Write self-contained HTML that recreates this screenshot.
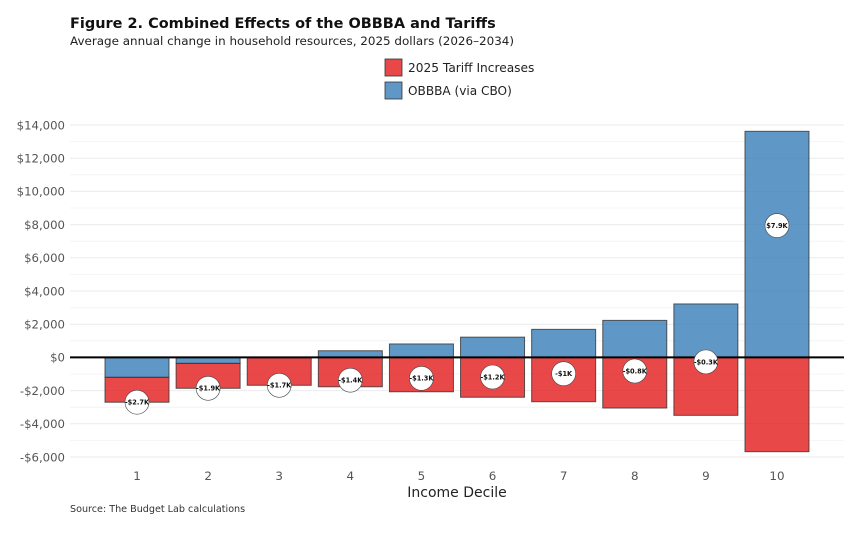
<!DOCTYPE html>
<html lang="en">
<head>
<meta charset="utf-8">
<title>Combined Effects of the OBBBA and Tariffs</title>
<style>
html,body{margin:0;padding:0;background:#fff;}
body{width:858px;height:538px;overflow:hidden;}
svg{display:block;font-family:"DejaVu Sans","Liberation Sans",sans-serif;}
</style>
</head>
<body>
<svg id="chart" width="858" height="538" viewBox="0 0 858 538" xmlns="http://www.w3.org/2000/svg">
  <rect x="0" y="0" width="858" height="538" fill="#ffffff"/>
  <text x="70" y="28" font-size="14.47" font-weight="700" fill="#111">Figure 2. Combined Effects of the OBBBA and Tariffs</text>
  <text x="70" y="45" font-size="11.93" fill="#222">Average annual change in household resources, 2025 dollars (2026–2034)</text>
  <rect x="385" y="59" width="17" height="17" fill="#E41A1C" fill-opacity="0.8" stroke="#333" stroke-width="0.8"/>
  <text x="408" y="72" font-size="12.2" fill="#222">2025 Tariff Increases</text>
  <rect x="385" y="82" width="17" height="17" fill="#377EB8" fill-opacity="0.8" stroke="#333" stroke-width="0.8"/>
  <text x="408" y="95" font-size="12.1" fill="#222">OBBBA (via CBO)</text>
  <g id="grid"></g>
  <g id="yaxis"></g>
  <g id="bars"></g>
  <line id="zero" stroke="#000" stroke-width="2"></line>
  <g id="labels"></g>
  <g id="xaxis"></g>
  <text x="457" y="497" font-size="14" text-anchor="middle" fill="#222">Income Decile</text>
  <text x="70" y="512" font-size="9.6" fill="#333">Source: The Budget Lab calculations</text>
</svg>
<script>
const deciles = [1, 2, 3, 4, 5, 6, 7, 8, 9, 10];
const obbbaValues = [-1200, -360, 0, 400, 810, 1220, 1690, 2230, 3220, 13620];
const tariffValues = [-1500, -1500, -1680, -1770, -2070, -2400, -2670, -3050, -3490, -5680];
const netLabels = ['-$2.7K', '-$1.9K', '-$1.7K', '-$1.4K', '-$1.3K', '-$1.2K', '-$1K', '-$0.8K', '-$0.3K', '$7.9K'];
const majorTicks = [-6000, -4000, -2000, 0, 2000, 4000, 6000, 8000, 10000, 12000, 14000];
const minorTicks = [-5000, -3000, -1000, 1000, 3000, 5000, 7000, 9000, 11000, 13000];

const SVG_NS = 'http://www.w3.org/2000/svg';
const plotLeft = 70, plotRight = 844, barWidth = 64;
function yScale(v) { return 357.4 - v * 0.0166; }
function xScale(d) { return 137 + (d - 1) * 71.11; }
function make(tag, attrs, parent) {
  const el = document.createElementNS(SVG_NS, tag);
  for (const k in attrs) el.setAttribute(k, attrs[k]);
  parent.appendChild(el);
  return el;
}
function money(v) {
  const s = '$' + Math.abs(v).toLocaleString('en-US');
  return v < 0 ? '-' + s : s;
}
const gridG = document.getElementById('grid');
const yG = document.getElementById('yaxis');
const xG = document.getElementById('xaxis');
const barsG = document.getElementById('bars');
const labelsG = document.getElementById('labels');

minorTicks.forEach(function (t) {
  const el = make('line', { x1: plotLeft, x2: plotRight, y1: yScale(t), y2: yScale(t), stroke: '#f4f4f4', 'stroke-width': 1 }, gridG);
  
  
});
majorTicks.forEach(function (t) {
  const el = make('line', { x1: plotLeft, x2: plotRight, y1: yScale(t), y2: yScale(t), stroke: '#ebebeb', 'stroke-width': 1 }, gridG);
  
  
  const lab = make('text', { x: 65, y: yScale(t) + 4.3, 'font-size': 11.7, 'text-anchor': 'end', fill: '#555' }, yG);
  
  
  lab.textContent = money(t);
});
function drawBar(x, a, b, fill, name) {
  const top = yScale(Math.max(a, b)), bottom = yScale(Math.min(a, b));
  const el = make('rect', { x: x - barWidth / 2, y: top, width: barWidth, height: bottom - top, fill: fill, 'fill-opacity': 0.8, stroke: '#333', 'stroke-opacity': 0.8, 'stroke-width': 1 }, barsG);
  
  
}
deciles.forEach(function (d, i) {
  const x = xScale(d);
  const ob = obbbaValues[i], ta = tariffValues[i];
  if (ob !== 0) drawBar(x, 0, ob, '#377EB8', 'bar-obbba');
  const start = Math.min(ob, 0);
  drawBar(x, start, start + ta, '#E41A1C', 'bar-tariff');
  const tick = make('text', { x: x, y: 480, 'font-size': 11.9, 'text-anchor': 'middle', fill: '#555' }, xG);
  
  
  tick.textContent = d;
});
const zero = document.getElementById('zero');
zero.setAttribute('x1', plotLeft);
zero.setAttribute('x2', plotRight);
zero.setAttribute('y1', yScale(0));
zero.setAttribute('y2', yScale(0));
deciles.forEach(function (d, i) {
  const x = xScale(d), y = yScale(obbbaValues[i] + tariffValues[i]);
  const c = make('circle', { cx: x, cy: y, r: 12, fill: '#fff', stroke: '#444', 'stroke-width': 0.6 }, labelsG);
  
  
  const t = make('text', { x: x, y: y + 2.4, 'font-size': 6.6, 'font-weight': 700, 'text-anchor': 'middle', fill: '#111' }, labelsG);
  
  
  t.textContent = netLabels[i];
});
</script>
</body>
</html>
